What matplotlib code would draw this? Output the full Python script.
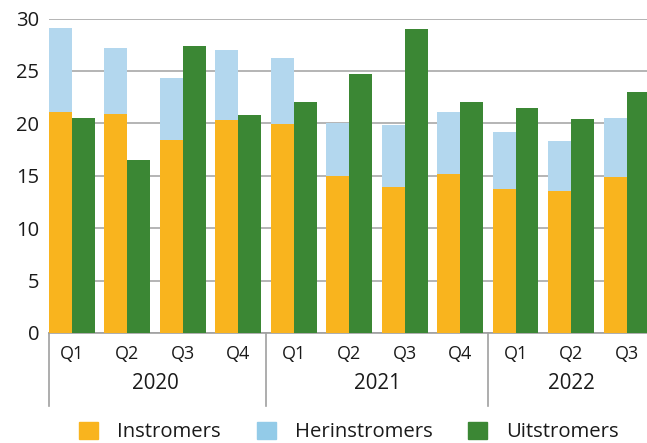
import matplotlib.pyplot as plt
from matplotlib.patches import Patch
import numpy as np

quarters = ['Q1', 'Q2', 'Q3', 'Q4', 'Q1', 'Q2', 'Q3', 'Q4', 'Q1', 'Q2', 'Q3']
years = ['2020', '2021', '2022']
year_pos = [1.5, 5.5, 9.0]
year_bounds = [-0.41, 3.5, 7.5]

instromers = [21.1, 20.9, 18.4, 20.3, 19.9, 15.0, 13.9, 15.2, 13.7, 13.5, 14.9]
herinstromers = [8.0, 6.3, 5.9, 6.7, 6.3, 5.0, 5.9, 5.9, 5.5, 4.8, 5.6]
uitstromers = [20.5, 16.5, 27.4, 20.8, 22.0, 24.7, 29.0, 22.0, 21.5, 20.4, 23.0]

c_in = '#F9B41E'
c_her = '#B3D7EE'
c_her_leg = '#93CBE8'
c_uit = '#3B8734'
txt = '#1a1a1a'

plt.rcParams['font.family'] = ['Open Sans', 'DejaVu Sans']

W, H = 647, 443
fig = plt.figure(figsize=(W / 100, H / 100), dpi=100)
ax = fig.add_axes([49 / W, 110 / H, (W - 49) / W, 314.5 / H])

x = np.arange(len(quarters))
w = 0.41
ax.bar(x - w / 2, instromers, w, color=c_in, zorder=3)
ax.bar(x - w / 2, herinstromers, w, bottom=instromers, color=c_her, zorder=3)
ax.bar(x + w / 2, uitstromers, w, color=c_uit, zorder=3)

ax.set_xlim(-0.41, 10.365)
ax.set_ylim(0, 30)
ax.set_yticks(range(0, 31, 5))
ax.yaxis.grid(True, color='#a8a8a8', lw=1.2)
ax.set_axisbelow(True)
for s in ['left', 'right', 'top']:
    ax.spines[s].set_visible(False)
ax.spines['bottom'].set_color('#a0a0a0')
ax.spines['bottom'].set_linewidth(1.2)
ax.tick_params(axis='y', length=0, pad=7, labelsize=14.5, labelcolor=txt)

ax.set_xticks(x)
ax.set_xticklabels(quarters)
ax.tick_params(axis='x', length=0, pad=9, labelsize=13, labelcolor=txt)

tr = ax.get_xaxis_transform()
for xp, yr in zip(year_pos, years):
    ax.text(xp, -0.162, yr, transform=tr, ha='center', va='center', fontsize=14.8, color=txt)
for b in year_bounds:
    ax.plot([b, b], [0, -0.232], transform=tr, color='#a0a0a0', lw=1.2, clip_on=False)

handles = [Patch(color=c_in, label='Instromers'),
           Patch(color=c_her_leg, label='Herinstromers'),
           Patch(color=c_uit, label='Uitstromers')]
fig.legend(handles=handles, loc='center', bbox_to_anchor=(349 / W, 11 / H), ncol=3,
           frameon=False, fontsize=14.6, handlelength=0.94, handleheight=0.94,
           handletextpad=0.94, columnspacing=1.77, labelcolor=txt, borderpad=0.1)

plt.savefig('out.png', dpi=100)
